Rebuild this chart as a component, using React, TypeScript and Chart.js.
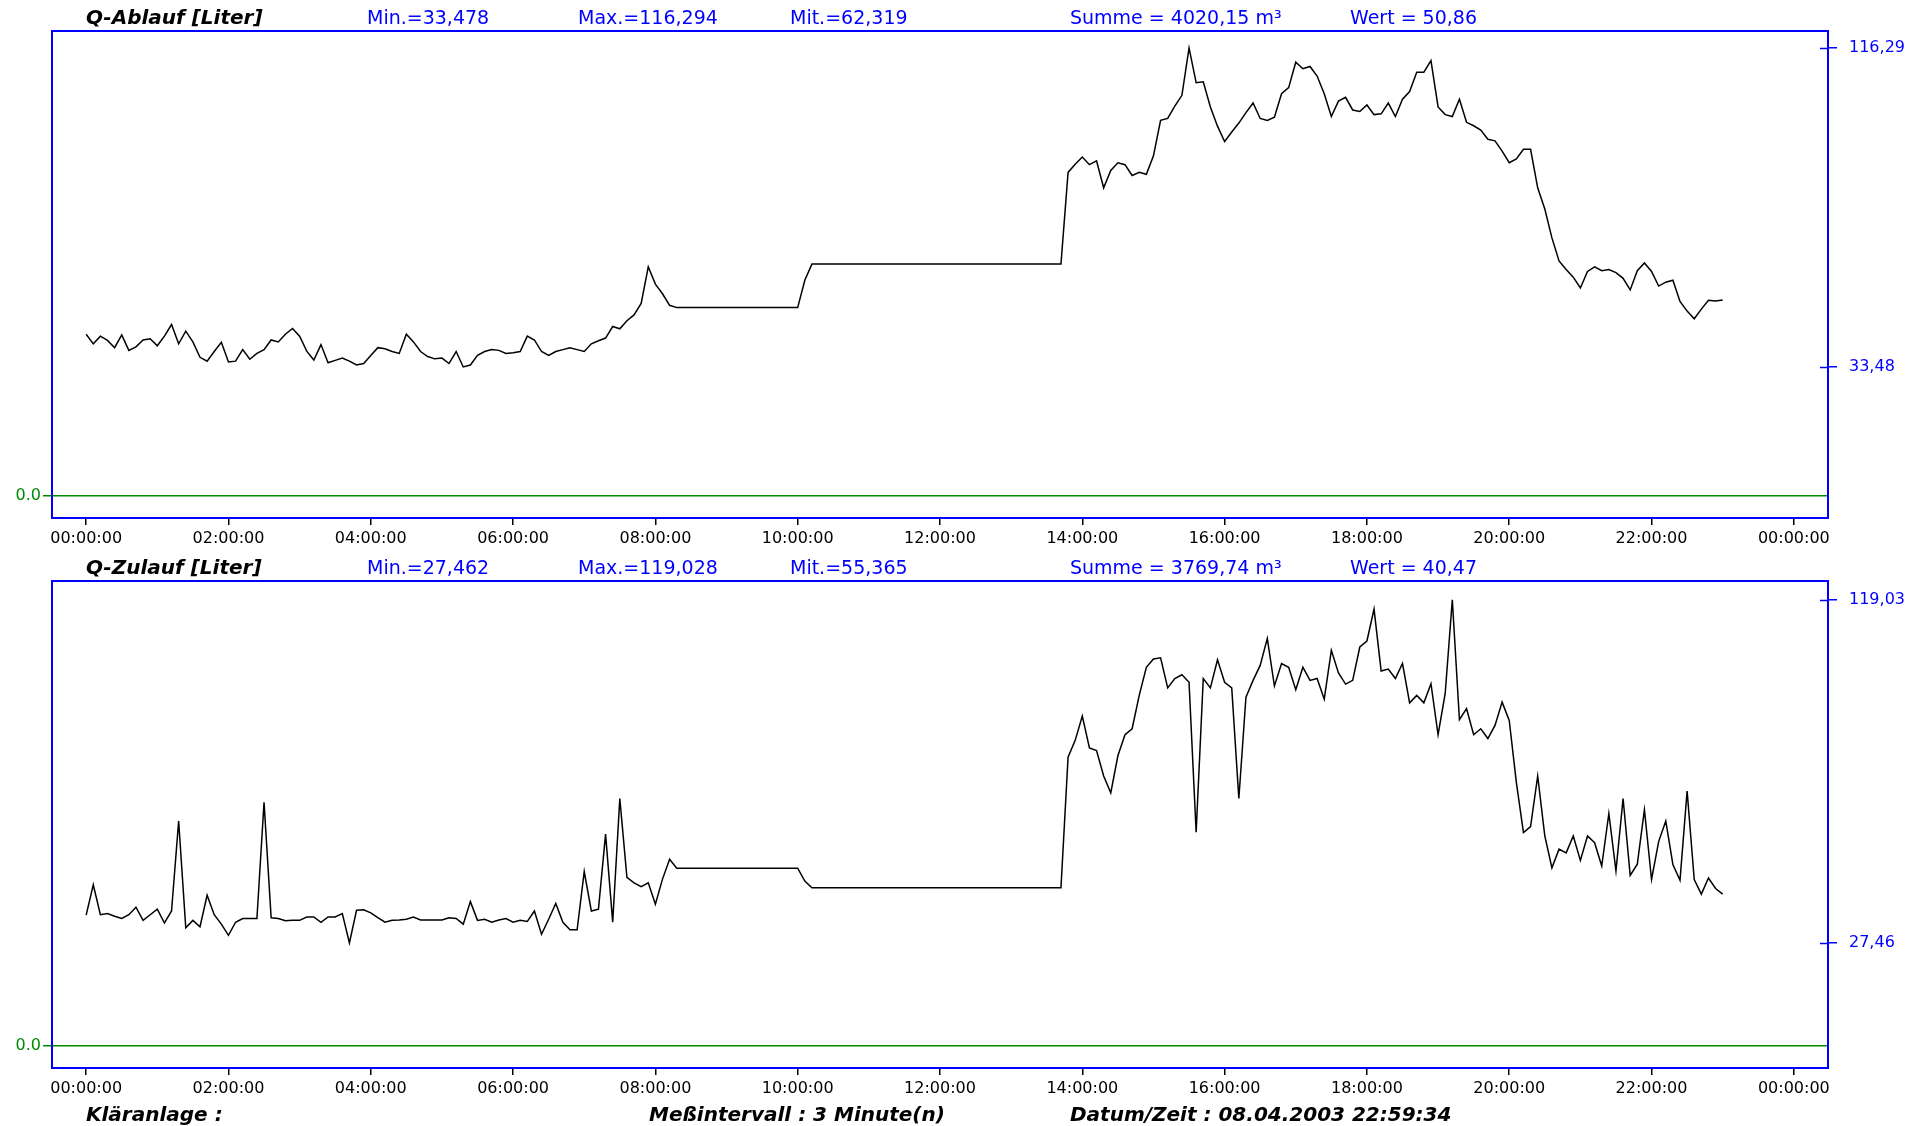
import React, { useEffect, useRef } from 'react';
import { Chart, registerables } from 'chart.js';

Chart.register(...registerables);

// ---- data (one value every 6 minutes, starting 00:00) ----
const STEP_HOURS = 0.1;
const X_TICK_HOURS = [0, 2, 4, 6, 8, 10, 12, 14, 16, 18, 20, 22, 24];

const ablaufValues = [
  42.0, 39.5, 41.5, 40.4, 38.5, 41.8, 37.8, 38.7, 40.5, 40.8,
  39.0, 41.5, 44.5, 39.5, 42.8, 40.0, 36.0, 35.0, 37.5, 39.9,
  34.8, 35.0, 38.0, 35.5, 37.0, 38.0, 40.5, 40.0, 42.0, 43.5,
  41.5, 37.6, 35.3, 39.3, 34.6, 35.2, 35.8, 35.0, 34.0, 34.4,
  36.5, 38.5, 38.2, 37.5, 37.0, 42.0, 40.0, 37.5, 36.2, 35.6,
  35.8, 34.4, 37.5, 33.5, 34.0, 36.5, 37.5, 38.0, 37.8, 37.0,
  37.2, 37.5, 41.5, 40.5, 37.5, 36.5, 37.5, 38.0, 38.5, 38.0,
  37.5, 39.5, 40.3, 41.0, 44.0, 43.4, 45.5, 47.0, 50.0, 59.5,
  55.0, 52.5, 49.5, 48.9, 48.9, 48.9, 48.9, 48.9, 48.9, 48.9,
  48.9, 48.9, 48.9, 48.9, 48.9, 48.9, 48.9, 48.9, 48.9, 48.9,
  48.9, 56.0, 60.2, 60.2, 60.2, 60.2, 60.2, 60.2, 60.2, 60.2,
  60.2, 60.2, 60.2, 60.2, 60.2, 60.2, 60.2, 60.2, 60.2, 60.2,
  60.2, 60.2, 60.2, 60.2, 60.2, 60.2, 60.2, 60.2, 60.2, 60.2,
  60.2, 60.2, 60.2, 60.2, 60.2, 60.2, 60.2, 60.2, 84.0, 86.1,
  88.0, 86.0, 87.0, 80.0, 84.5, 86.5, 86.0, 83.2, 84.0, 83.5,
  88.3, 97.5, 98.0, 101.2, 104.0, 116.3, 107.3, 107.5, 101.0, 96.0,
  92.0, 94.5, 96.8, 99.5, 102.0, 98.0, 97.5, 98.3, 104.4, 106.0,
  112.6, 110.9, 111.5, 109.0, 104.4, 98.5, 102.5, 103.5, 100.2, 99.8,
  101.5, 99.0, 99.2, 102.0, 98.5, 103.0, 105.0, 110.0, 110.0, 113.0,
  101.0, 99.0, 98.5, 103.0, 97.0, 96.1, 95.0, 92.6, 92.2, 89.5,
  86.5, 87.5, 90.0, 90.0, 80.0, 74.5, 67.0, 61.0, 58.8, 56.8,
  54.0, 58.3, 59.5, 58.5, 58.8, 58.0, 56.5, 53.5, 58.5, 60.5,
  58.3, 54.5, 55.5, 56.0, 50.5, 48.0, 46.0, 48.5, 50.8, 50.6,
  50.9,
];

const zulaufValues = [
  34.9, 43.0, 35.0, 35.3, 34.6, 34.0, 35.0, 37.0, 33.5, 35.0,
  36.5, 32.8, 36.0, 60.0, 31.5, 33.5, 31.8, 40.2, 35.0, 32.5,
  29.5, 33.0, 34.0, 34.0, 34.0, 65.0, 34.2, 34.0, 33.4, 33.5,
  33.5, 34.4, 34.4, 33.0, 34.4, 34.4, 35.3, 27.5, 36.2, 36.3,
  35.5, 34.2, 33.0, 33.5, 33.6, 33.8, 34.4, 33.6, 33.6, 33.6,
  33.6, 34.2, 34.0, 32.5, 38.5, 33.5, 33.8, 33.0, 33.6, 34.0,
  33.0, 33.5, 33.2, 36.0, 29.8, 33.8, 38.0, 33.0, 31.0, 31.0,
  46.5, 36.0, 36.5, 56.5, 33.0, 66.0, 45.0, 43.5, 42.5, 43.5,
  37.8, 44.5, 49.8, 47.4, 47.4, 47.4, 47.4, 47.4, 47.4, 47.4,
  47.4, 47.4, 47.4, 47.4, 47.4, 47.4, 47.4, 47.4, 47.4, 47.4,
  47.4, 44.0, 42.2, 42.2, 42.2, 42.2, 42.2, 42.2, 42.2, 42.2,
  42.2, 42.2, 42.2, 42.2, 42.2, 42.2, 42.2, 42.2, 42.2, 42.2,
  42.2, 42.2, 42.2, 42.2, 42.2, 42.2, 42.2, 42.2, 42.2, 42.2,
  42.2, 42.2, 42.2, 42.2, 42.2, 42.2, 42.2, 42.2, 77.0, 81.5,
  88.0, 79.5, 78.8, 72.0, 67.5, 77.4, 83.0, 84.6, 93.5, 101.0,
  103.2, 103.5, 95.5, 98.0, 99.0, 97.0, 57.0, 98.0, 95.5, 103.0,
  97.0, 95.5, 66.0, 93.0, 97.5, 101.5, 108.7, 96.0, 102.0, 101.0,
  95.0, 101.0, 97.5, 98.0, 92.5, 105.5, 99.5, 96.5, 97.5, 106.4,
  108.0, 116.5, 100.0, 100.5, 98.0, 102.0, 91.5, 93.5, 91.5, 96.6,
  83.0, 94.0, 119.0, 87.0, 90.0, 83.0, 84.6, 82.0, 85.5, 91.7,
  86.8, 70.3, 56.9, 58.5, 72.0, 56.0, 47.5, 52.5, 51.5, 56.0,
  49.5, 56.0, 54.2, 48.0, 62.0, 46.7, 66.0, 45.5, 48.5, 63.0,
  44.4, 54.5, 60.0, 48.4, 44.2, 68.0, 44.4, 40.5, 44.8, 42.0,
  40.5,
];

const ablaufTitle = 'Q-Ablauf [Liter]';
const zulaufTitle = 'Q-Zulauf [Liter]';
const ablaufStats = ['Min.=33,478', 'Max.=116,294', 'Mit.=62,319', 'Summe = 4020,15 m³', 'Wert = 50,86'];
const zulaufStats = ['Min.=27,462', 'Max.=119,028', 'Mit.=55,365', 'Summe = 3769,74 m³', 'Wert = 40,47'];
const ablaufAxisMarks = [33.478, 116.294];
const zulaufAxisMarks = [27.462, 119.028];
const ablaufRange = [-5.71, 120.7];
const zulaufRange = [-5.87, 124.0];
const footerTexts = ['Kläranlage :', 'Meßintervall : 3 Minute(n)', 'Datum/Zeit : 08.04.2003 22:59:34'];

// ---- styling / layout ----
const FONT = '"DejaVu Sans", "Liberation Sans", sans-serif';
const BLUE = '#0000ff';
const GREEN = '#008a00';
const PAGE_W = 1924;
const PAGE_H = 1126;
const PANEL_H = 560;
const PANEL_OFFSET = 550;
const PLOT_RIGHT = 1828;
const STAT_X = [367, 578, 790, 1070, 1350];
const TITLE_X = 86;
const FOOTER_X = [86, 649, 1070];

const framePlugin = {
  id: 'frame',
  afterDraw(chart: any) {
    const { ctx, chartArea: a } = chart;
    ctx.save();
    ctx.strokeStyle = BLUE;
    ctx.lineWidth = 2;
    ctx.strokeRect(a.left, a.top, a.right - a.left, a.bottom - a.top);
    const yR = chart.scales.yR;
    ctx.lineWidth = 1.5;
    yR.ticks.forEach((t: any) => {
      const y = Math.round(yR.getPixelForValue(t.value)) + 0.5;
      ctx.beginPath();
      ctx.moveTo(a.right - 8, y);
      ctx.lineTo(a.right, y);
      ctx.stroke();
    });
    ctx.restore();
  },
};

function pad2(n: number) {
  return String(n % 24).padStart(2, '0');
}

function Panel({ values, marks, range, top }: { values: number[]; marks: number[]; range: number[]; top: number }) {
  const ref = useRef<HTMLCanvasElement | null>(null);
  useEffect(() => {
    if (!ref.current) return;
    const points = values.map((y, i) => ({ x: Math.round(i * STEP_HOURS * 100) / 100, y }));
    const tickFont = { family: FONT, size: 16 };
    const chart = new Chart(ref.current, {
      type: 'line',
      data: {
        datasets: [
          {
            data: points,
            xAxisID: 'x',
            yAxisID: 'yR',
            borderColor: '#000',
            borderWidth: 1.5,
            pointRadius: 0,
            tension: 0,
            fill: false,
          },
        ],
      },
      options: {
        animation: false,
        responsive: false,
        devicePixelRatio: 1,
        layout: { padding: { top: 31, left: 0, right: 0, bottom: 0 } },
        plugins: { legend: { display: false }, tooltip: { enabled: false } },
        scales: {
          x: {
            type: 'linear',
            min: -0.48,
            max: 24.48,
            afterBuildTicks: (s: any) => {
              s.ticks = X_TICK_HOURS.map((v) => ({ value: v }));
            },
            afterFit: (s: any) => {
              s.height = PANEL_H - 518;
            },
            ticks: {
              autoSkip: false,
              maxRotation: 0,
              padding: 4,
              color: '#000',
              font: tickFont,
              callback: (v: any) => `${pad2(Number(v))}:00:00`,
            },
            grid: { drawOnChartArea: false, drawTicks: true, tickLength: 7, color: '#000', lineWidth: 1.5 },
            border: { display: false },
          },
          yL: {
            type: 'linear',
            position: 'left',
            min: range[0],
            max: range[1],
            afterBuildTicks: (s: any) => {
              s.ticks = [{ value: 0 }];
            },
            afterFit: (s: any) => {
              s.width = 52;
            },
            ticks: { color: GREEN, font: tickFont, padding: 2, callback: () => '0.0' },
            grid: { color: GREEN, lineWidth: 1.5, tickLength: 9 },
            border: { display: false },
          },
          yR: {
            type: 'linear',
            position: 'right',
            min: range[0],
            max: range[1],
            afterBuildTicks: (s: any) => {
              s.ticks = marks.map((v) => ({ value: v }));
            },
            afterFit: (s: any) => {
              s.width = PAGE_W - PLOT_RIGHT;
            },
            ticks: {
              color: BLUE,
              font: tickFont,
              padding: 12,
              callback: (v: any) => Number(v).toFixed(2).replace('.', ','),
            },
            grid: { drawOnChartArea: false, color: BLUE, lineWidth: 1.5, tickLength: 9 },
            border: { display: false },
          },
        },
      } as any,
      plugins: [framePlugin],
    });
    return () => chart.destroy();
  }, [values, marks, range]);
  return (
    <canvas
      ref={ref}
      width={PAGE_W}
      height={PANEL_H}
      style={{ position: 'absolute', left: 0, top, width: PAGE_W, height: PANEL_H, display: 'block' }}
    />
  );
}

function Label({ x, y, text, color, bold }: { x: number; y: number; text: string; color: string; bold?: boolean }) {
  return (
    <div
      style={{
        position: 'absolute',
        left: x,
        top: y - 12,
        lineHeight: '24px',
        whiteSpace: 'nowrap',
        fontFamily: FONT,
        fontSize: bold ? 20 : 19,
        fontWeight: bold ? 'bold' : 'normal',
        fontStyle: bold ? 'italic' : 'normal',
        color,
      }}
    >
      {text}
    </div>
  );
}

function Header({ title, stats, y }: { title: string; stats: string[]; y: number }) {
  return (
    <>
      <Label x={TITLE_X} y={y} text={title} color="#000" bold />
      {stats.map((s, i) => (
        <Label key={i} x={STAT_X[i]} y={y} text={s} color={BLUE} />
      ))}
    </>
  );
}

export default function App() {
  return (
    <div
      style={{
        position: 'absolute',
        left: 0,
        top: 0,
        width: PAGE_W,
        height: PAGE_H,
        overflow: 'hidden',
        background: '#fff',
      }}
    >
      <Panel values={ablaufValues} marks={ablaufAxisMarks} range={ablaufRange} top={0} />
      <Panel values={zulaufValues} marks={zulaufAxisMarks} range={zulaufRange} top={PANEL_OFFSET} />
      <Header title={ablaufTitle} stats={ablaufStats} y={17} />
      <Header title={zulaufTitle} stats={zulaufStats} y={17 + PANEL_OFFSET} />
      {footerTexts.map((t, i) => (
        <Label key={i} x={FOOTER_X[i]} y={1114} text={t} color="#000" bold />
      ))}
    </div>
  );
}
